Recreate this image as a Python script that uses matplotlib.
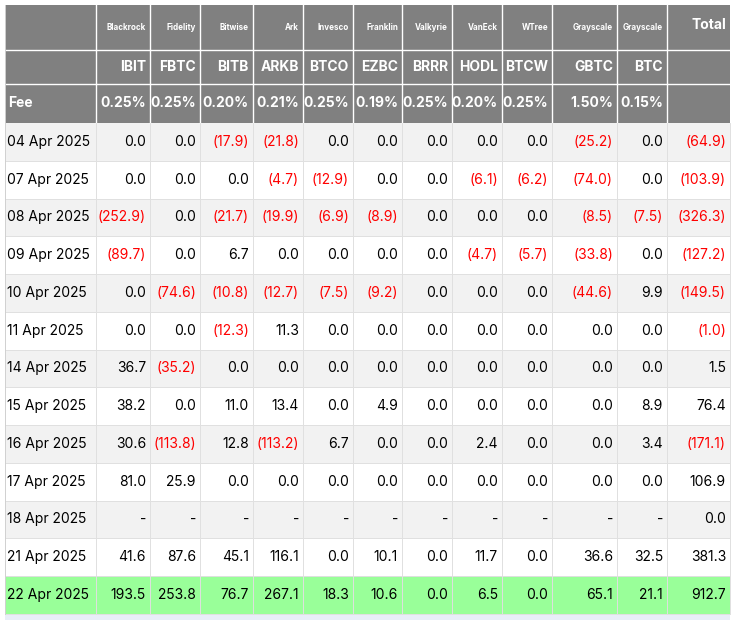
import matplotlib
matplotlib.use("Agg")
import matplotlib.pyplot as plt
from matplotlib.patches import Rectangle

issuers = ["Blackrock", "Fidelity", "Bitwise", "Ark", "Invesco", "Franklin",
           "Valkyrie", "VanEck", "WTree", "Grayscale", "Grayscale"]
tickers = ["IBIT", "FBTC", "BITB", "ARKB", "BTCO", "EZBC", "BRRR", "HODL", "BTCW", "GBTC", "BTC"]
fees = ["0.25%", "0.25%", "0.20%", "0.21%", "0.25%", "0.19%", "0.25%", "0.20%", "0.25%", "1.50%", "0.15%"]
dates = ["04 Apr 2025", "07 Apr 2025", "08 Apr 2025", "09 Apr 2025", "10 Apr 2025",
         "11 Apr 2025", "14 Apr 2025", "15 Apr 2025", "16 Apr 2025", "17 Apr 2025",
         "18 Apr 2025", "21 Apr 2025", "22 Apr 2025"]
N = None  # no data (dash)
flows = [
    [0.0, 0.0, -17.9, -21.8, 0.0, 0.0, 0.0, 0.0, 0.0, -25.2, 0.0],
    [0.0, 0.0, 0.0, -4.7, -12.9, 0.0, 0.0, -6.1, -6.2, -74.0, 0.0],
    [-252.9, 0.0, -21.7, -19.9, -6.9, -8.9, 0.0, 0.0, 0.0, -8.5, -7.5],
    [-89.7, 0.0, 6.7, 0.0, 0.0, 0.0, 0.0, -4.7, -5.7, -33.8, 0.0],
    [0.0, -74.6, -10.8, -12.7, -7.5, -9.2, 0.0, 0.0, 0.0, -44.6, 9.9],
    [0.0, 0.0, -12.3, 11.3, 0.0, 0.0, 0.0, 0.0, 0.0, 0.0, 0.0],
    [36.7, -35.2, 0.0, 0.0, 0.0, 0.0, 0.0, 0.0, 0.0, 0.0, 0.0],
    [38.2, 0.0, 11.0, 13.4, 0.0, 4.9, 0.0, 0.0, 0.0, 0.0, 8.9],
    [30.6, -113.8, 12.8, -113.2, 6.7, 0.0, 0.0, 2.4, 0.0, 0.0, 3.4],
    [81.0, 25.9, 0.0, 0.0, 0.0, 0.0, 0.0, 0.0, 0.0, 0.0, 0.0],
    [N, N, N, N, N, N, N, N, N, N, N],
    [41.6, 87.6, 45.1, 116.1, 0.0, 10.1, 0.0, 11.7, 0.0, 36.6, 32.5],
    [193.5, 253.8, 76.7, 267.1, 18.3, 10.6, 0.0, 6.5, 0.0, 65.1, 21.1],
]
totals = [-64.9, -103.9, -326.3, -127.2, -149.5, -1.0, 1.5, 76.4, -171.1, 106.9, 0.0, 381.3, 912.7]

W, H = 735, 621
fig = plt.figure(figsize=(W / 100, H / 100), dpi=100)
ax = fig.add_axes([0, 0, 1, 1])
ax.set_xlim(0, W)
ax.set_ylim(H, 0)
ax.axis("off")

font = "Inter"
xs = [5, 96, 150, 200, 253, 303, 353, 402, 452, 502, 552, 617, 667, 730]
hy = [5, 50, 84, 123]
rh = 37.75
gray = "#808080"

ax.add_patch(Rectangle((xs[0], hy[0]), xs[-1] - xs[0], hy[3] - hy[0], color=gray, lw=0))
for x in xs[1:-1]:
    ax.plot([x, x], [hy[0], hy[3]], color="white", lw=1)
for y in hy[1:3]:
    ax.plot([xs[0], xs[-1]], [y, y], color="white", lw=1)

for i in range(11):
    r = xs[i + 2] - 4
    ax.text(r, 28, issuers[i], ha="right", va="center", color="white", fontsize=5.8,
            fontweight="bold", family=font)
    ax.text(r, 67, tickers[i], ha="right", va="center", color="white", fontsize=10,
            fontweight="bold", family=font)
    ax.text(r, 103, fees[i], ha="right", va="center", color="white", fontsize=10,
            fontweight="bold", family=font)
ax.text(xs[-1] - 4, 25, "Total", ha="right", va="center", color="white", fontsize=10,
        fontweight="bold", family=font)
ax.text(xs[0] + 3, 103, "Fee", ha="left", va="center", color="white", fontsize=10,
        fontweight="bold", family=font)


def fmt(v):
    if v is None:
        return "-", "black"
    if v < 0:
        return "(%.1f)" % -v, "red"
    return "%.1f" % v, "black"


for j, d in enumerate(dates):
    y0 = hy[3] + j * rh
    if j == len(dates) - 1:
        bg = "#99ff99"
    else:
        bg = "#f2f2f2" if j % 2 == 0 else "white"
    ax.add_patch(Rectangle((xs[0], y0), xs[-1] - xs[0], rh, color=bg, lw=0))
    yc = y0 + rh / 2
    ax.text(xs[0] + 2, yc, d, ha="left", va="center", fontsize=10, family=font)
    for i, v in enumerate(flows[j] + [totals[j]]):
        s, c = fmt(v)
        ax.text(xs[i + 2] - 4, yc, s, ha="right", va="center", fontsize=10, color=c, family=font)
    ax.plot([xs[0], xs[-1]], [y0 + rh, y0 + rh], color="#e0e0e0", lw=0.7)

yb = hy[3] + len(dates) * rh
ax.add_patch(Rectangle((xs[0], yb), xs[-1] - xs[0], 6, color="#e8eef8", lw=0))
for x in xs[1:]:
    ax.plot([x, x], [hy[3], yb], color="#e0e0e0", lw=0.7)
ax.plot([xs[0], xs[0]], [hy[0], yb], color="#d0d0d0", lw=0.7)

fig.savefig("out.png", dpi=100)
